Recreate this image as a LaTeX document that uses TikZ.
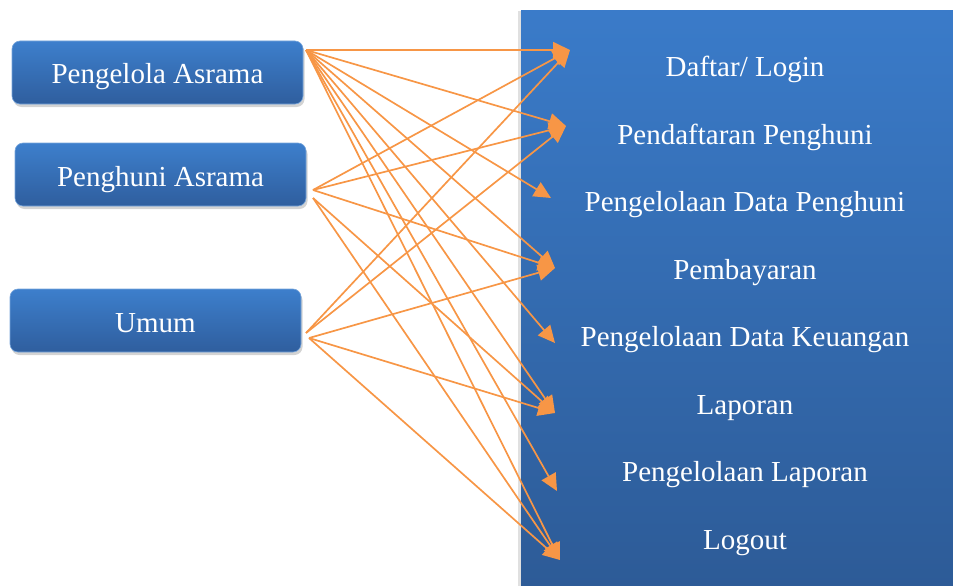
\documentclass[tikz,border=0pt]{standalone}
\usepackage{fontspec}
\setmainfont{Liberation Serif}
\usetikzlibrary{arrows.meta,shadows}
\definecolor{boxtop}{HTML}{3D7FCC}
\definecolor{boxbot}{HTML}{2F5E9E}
\definecolor{paneltop}{HTML}{3A7BC9}
\definecolor{panelbot}{HTML}{2D5B97}
\definecolor{arr}{HTML}{F79646}
\tikzset{
  actor/.style={rounded corners=8pt, top color=boxtop, bottom color=boxbot, draw=boxtop!70!white, line width=0.6pt,
    drop shadow={shadow xshift=1.5pt, shadow yshift=-3pt, opacity=0.35},
    minimum width=291pt, minimum height=63pt, text=white, font=\fontsize{29}{32}\selectfont, inner sep=0pt,
    text height=23pt, text depth=0pt},
  item/.style={text=white, font=\fontsize{29}{32}\selectfont, inner sep=0pt, text height=21pt, text depth=0pt},
  link/.style={draw=arr, line width=1.7pt, -{Triangle[length=17pt,width=16pt]}}
}
\begin{document}
\begin{tikzpicture}[x=1pt,y=-1pt]
\useasboundingbox (0,0) rectangle (953,586);
% panel
\fill[black!12] (518,11) rectangle (953,586);
\shade[top color=paneltop, bottom color=panelbot] (521,11) rectangle (953,586);
% actors
\node[actor] (pengelola) at (157.5,72.5) {Pengelola Asrama};
\node[actor] (penghuni) at (160.5,174.5) {Penghuni Asrama};
\node[actor] (umum) at (155.5,320.5) {Umum};
% menu items
\node[item] (daftar) at (745,66) {Daftar/ Login};
\node[item] (pendaftaran) at (745,134) {Pendaftaran Penghuni};
\node[item] (datapenghuni) at (745,201) {Pengelolaan Data Penghuni};
\node[item] (pembayaran) at (745,269) {Pembayaran};
\node[item] (keuangan) at (745,336) {Pengelolaan Data Keuangan};
\node[item] (laporan) at (745,404) {Laporan};
\node[item] (plaporan) at (745,471) {Pengelolaan Laporan};
\node[item] (logout) at (745,539) {Logout};
% origins
\coordinate (oA) at (306,50);
\coordinate (oB1) at (313,190);
\coordinate (oB2) at (313,198);
\coordinate (oC1) at (306,333);
\coordinate (oC2) at (309,338);
% arrow targets
\coordinate (tDaftar) at (570,50);
\coordinate (tPendaftaran) at (566,126);
\coordinate (tDataPenghuni) at (551,198);
\coordinate (tPembayaran) at (555,268);
\coordinate (tKeuangan) at (555,343);
\coordinate (tLaporan) at (555,413);
\coordinate (tPLaporan) at (557,491);
\coordinate (tLogout) at (560,560);
% Pengelola
\foreach \t in {tDaftar,tPendaftaran,tDataPenghuni,tPembayaran,tKeuangan,tLaporan,tPLaporan,tLogout}
  \draw[link] (oA) -- (\t);
% Penghuni
\foreach \t in {tDaftar,tPendaftaran,tPembayaran}
  \draw[link] (oB1) -- (\t);
\foreach \t in {tLaporan,tLogout}
  \draw[link] (oB2) -- (\t);
% Umum
\foreach \t in {tDaftar,tPendaftaran}
  \draw[link] (oC1) -- (\t);
\foreach \t in {tPembayaran,tLaporan,tLogout}
  \draw[link] (oC2) -- (\t);
\end{tikzpicture}
\end{document}
